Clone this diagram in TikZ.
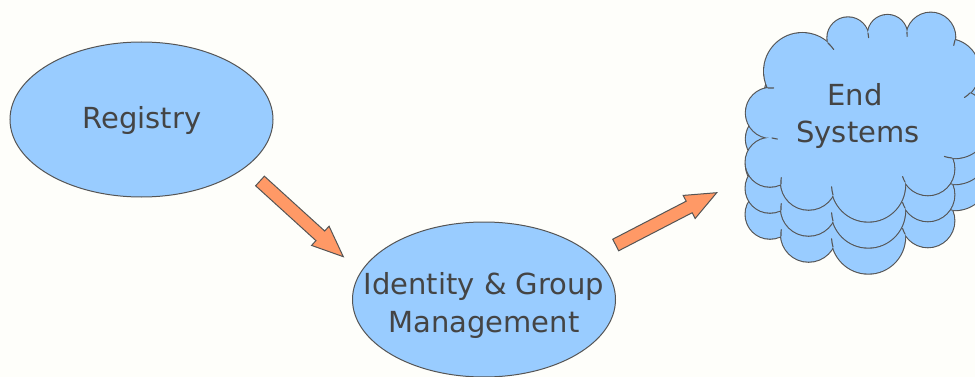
\documentclass[tikz,border=0pt]{standalone}
\usepackage{fontspec}
\setmainfont{DejaVu Sans}
\usetikzlibrary{shapes.geometric,calc}

\definecolor{bgcol}{RGB}{254,254,250}
\definecolor{bluefill}{RGB}{153,204,255}
\definecolor{orangefill}{RGB}{255,153,102}
\definecolor{linegray}{RGB}{85,85,85}
\definecolor{textgray}{RGB}{68,68,68}

\tikzset{
  bubble/.style={ellipse, draw=linegray, line width=1pt, fill=bluefill,
    minimum width=263pt, minimum height=155pt, inner sep=0pt},
  nodetext/.style={text=textgray, font=\fontsize{29}{37}\selectfont, anchor=base, inner sep=0pt},
  blockarrow/.style={draw=linegray, line width=1pt, fill=orangefill, line join=miter},
  puffrim/.style={draw=linegray, line width=2.2pt},
  puffbody/.style={fill=bluefill},
  pufftick/.style={draw=linegray, line width=1.1pt, line cap=round}
}

% block arrow between two named coordinates: shaft 13pt wide, head 26pt wide, 31pt long
\newcommand\blockarrowpath[2]{%
  \path[blockarrow] let \p1=($(#2)-(#1)$), \n1={atan2(\y1,\x1)},
      \n3={veclen(\x1,\y1)-31} in
    ($(#1)+(\n1+90:6.5pt)$)
    -- ($(#1)+(\n1:\n3)+(\n1+90:6.5pt)$)
    -- ($(#1)+(\n1:\n3)+(\n1+90:13pt)$)
    -- (#2)
    -- ($(#1)+(\n1:\n3)+(\n1-90:13pt)$)
    -- ($(#1)+(\n1:\n3)+(\n1-90:6.5pt)$)
    -- ($(#1)+(\n1-90:6.5pt)$) -- cycle;}

% puffs of one cloud: centre x / centre y / radius / end cusp x / end cusp y
\newcommand\puffs{%
  770/162.3/24.4/772/138, 771/112.9/25.1/768/88, 802.3/71.3/38.2/828/43,
  848/38/20.6/868/33, 887.5/34.6/19.6/907/32, 930.8/37.1/24.4/955/40,
  947.4/70.8/31.7/970/93, 954.9/123.8/34.3/952/158, 927.9/168.8/26.4/905/182,
  868.3/184.8/36.8/833/195, 808.6/182/27.7/781/184}

% one cloud: rim of every puff, then body on top, then the short inner arcs
\newcommand\cloudlayer{%
  \foreach \cx/\cy/\r/\bx/\by in \puffs
    \path[puffrim] (\cx,\cy) circle[radius=\r pt];
  \fill[puffbody] (781,184) -- (772,138) -- (768,88) -- (828,43) -- (868,33)
    -- (907,32) -- (955,40) -- (970,93) -- (952,158) -- (905,182) -- (833,195) -- cycle;
  \foreach \cx/\cy/\r/\bx/\by in \puffs
    \fill[puffbody] (\cx,\cy) circle[radius=\r pt];
  \foreach \cx/\cy/\r/\bx/\by in \puffs
    \path[pufftick] let \p1=($(\bx,\by)-(\cx,\cy)$), \n1={atan2(\y1,\x1)} in
      (\bx,\by) arc[start angle=\n1, delta angle=-13, radius=\r pt];
}

\begin{document}
\begin{tikzpicture}[x=1pt, y=-1pt]
  \fill[bgcol] (0,0) rectangle (975,377);
  \useasboundingbox (0,0) rectangle (975,377);

  % Registry
  \node[bubble] (reg) at (141.5,119.5) {};
  \node[nodetext] (regtext) at (142,129) {Registry};

  % Identity & Group Management
  \node[bubble] (idm) at (484,299.5) {};
  \node[nodetext] (idmtexta) at (484,294) {Identity \& Group};
  \node[nodetext] (idmtextb) at (484,332) {Management};

  % stacked end-system clouds, back to front
  \foreach \dy in {52,26,0}{
    \begin{scope}[shift={(0,\dy)}]
      \cloudlayer
    \end{scope}
  }
  \node[nodetext] (endtexta) at (855,106) {End};
  \node[nodetext] (endtextb) at (858,143) {Systems};

  % arrows
  \coordinate (a1s) at (260,181);
  \coordinate (a1e) at (343.3,256.7);
  \coordinate (a2s) at (615.7,245);
  \coordinate (a2e) at (716.7,192.7);
  \blockarrowpath{a1s}{a1e}
  \blockarrowpath{a2s}{a2e}
\end{tikzpicture}
\end{document}
